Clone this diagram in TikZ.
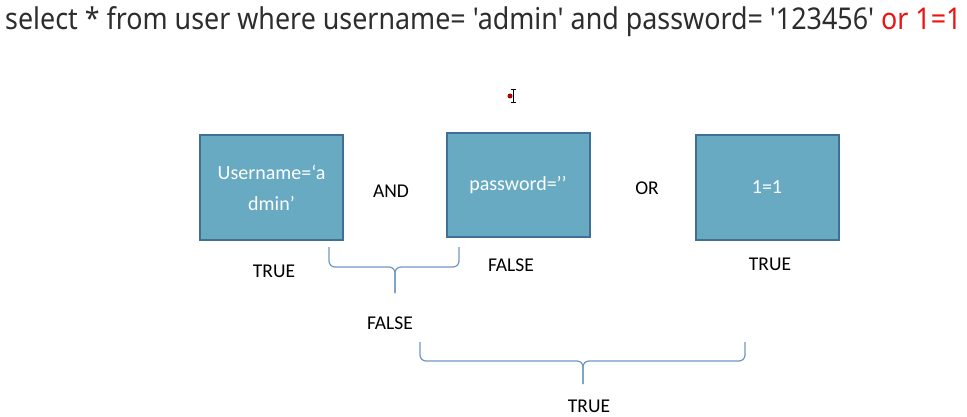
\documentclass[tikz,border=0pt]{standalone}
\usepackage{fontspec}
\setmainfont{Carlito}
\newfontfamily\titlefont[FakeStretch=0.895]{Noto Sans}
\definecolor{boxfill}{RGB}{103,170,194}
\definecolor{boxline}{RGB}{64,112,150}
\definecolor{bracecol}{RGB}{110,150,195}
\definecolor{sqlred}{RGB}{235,20,20}
\definecolor{titlegray}{RGB}{45,45,45}
\tikzset{
  cond/.style={draw=boxline, line width=2pt, fill=boxfill, minimum width=143pt, minimum height=104pt, inner sep=0pt, text=white, font=\fontsize{20}{31}\selectfont, align=center},
  lbl/.style={font=\fontsize{19.5}{22}\selectfont, inner sep=0pt},
  bracepath/.style={draw=bracecol, line width=1.2pt, rounded corners=6pt},
}
\begin{document}
\begin{tikzpicture}[x=1pt,y=-1pt]
\useasboundingbox (0,0) rectangle (967,417);
\node[anchor=base west, inner sep=0pt, text=titlegray, font=\titlefont\fontsize{30}{34}\selectfont] (title) at (5,30)
  {select * from user where username= 'admin' and password= '123456' \textcolor{sqlred}{or 1=1}};
\node[cond] (b1) at (271.5,187.5) {Username=‘a\\dmin’};
\node[cond] (b2) at (518,185) {password=’’};
\node[cond] (b3) at (767,187.5) {1=1};
\node[lbl] (and) at (391,191) {AND};
\node[lbl] (or) at (647,188) {OR};
\node[lbl] (t1) at (274,271) {TRUE};
\node[lbl] (f2) at (511,265) {FALSE};
\node[lbl] (t3) at (770,264) {TRUE};
\node[lbl] (f12) at (390,323) {FALSE};
\node[lbl] (tall) at (589,406) {TRUE};
% braces
\coordinate (aL) at (329,247);
\coordinate (aR) at (459,247);
\coordinate (aM) at (395,267);
\coordinate (aT) at (395,293);
\draw[bracepath] (aL) |- (aM) -- (aT);
\draw[bracepath] (aR) |- (aM) -- (aT);
\coordinate (cL) at (420,342);
\coordinate (cR) at (745,342);
\coordinate (cM) at (583,361);
\coordinate (cT) at (583,384);
\draw[bracepath] (cL) |- (cM) -- (cT);
\draw[bracepath] (cR) |- (cM) -- (cT);
% cursor
\fill[red!70!black] (510,96) circle (2.5pt);
\draw[line width=1pt] (513,90) -- (513,103) (510.5,90) -- (515.5,90) (510.5,103) -- (515.5,103);
\end{tikzpicture}
\end{document}
